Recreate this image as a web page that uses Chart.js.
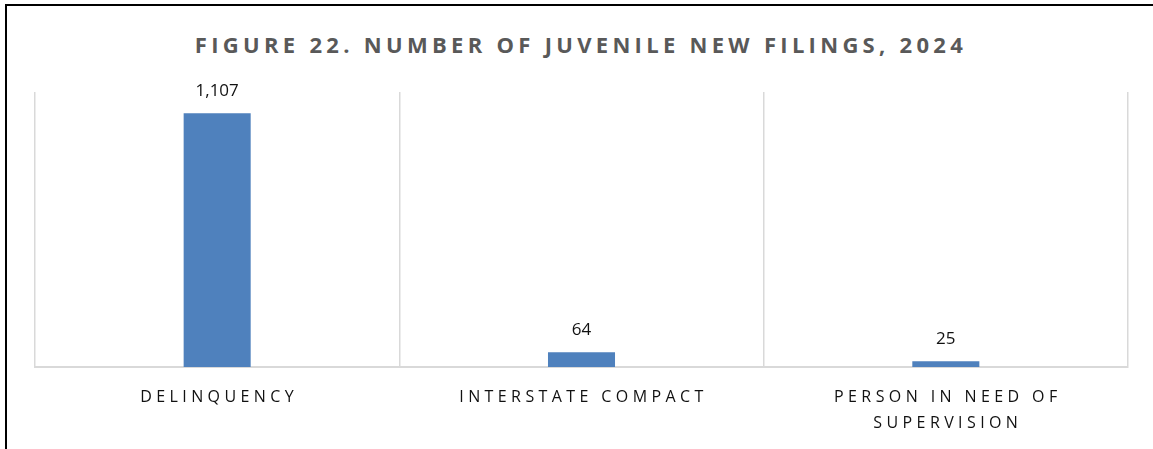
<!DOCTYPE html>
<html>
<head>
<meta charset="utf-8">
<script src="https://cdn.jsdelivr.net/npm/chart.js@4/dist/chart.umd.min.js"></script>
<style>
  html, body { margin: 0; padding: 0; background: #fff; }
  body { width: 1153px; height: 449px; position: relative; overflow: hidden; }
  .frame {
    position: absolute; left: 5px; top: 4px; right: -10px; bottom: -10px;
    border-left: 2px solid #000; border-top: 2px solid #000;
  }
  h1 {
    position: absolute; left: 0; top: 30px; width: 1162px; margin: 0;
    text-align: center; font-family: "Open Sans", sans-serif; font-weight: 700;
    font-size: 22px; letter-spacing: 4.3px; color: #595959; line-height: 28px;
  }
  #wrap { position: absolute; left: 0; top: 0; width: 1153px; height: 449px; }
</style>
</head>
<body>
<div class="frame"></div>
<h1>FIGURE 22. NUMBER OF JUVENILE NEW FILINGS, 2024</h1>
<div id="wrap"><canvas id="chart"></canvas></div>
<script>
const categories = [["DELINQUENCY"], ["INTERSTATE COMPACT"], ["PERSON IN NEED OF", "SUPERVISION"]];
const filings = [1107, 64, 25];

// value labels above bars + spaced category labels
const labelPlugin = {
  id: "labels",
  afterDatasetsDraw(chart) {
    const ctx = chart.ctx;
    const meta = chart.getDatasetMeta(0);
    ctx.save();
    ctx.fillStyle = "#111";
    ctx.font = "17px 'Open Sans', sans-serif";
    ctx.textAlign = "center";
    ctx.textBaseline = "bottom";
    meta.data.forEach((bar, i) => {
      ctx.fillText(filings[i].toLocaleString("en-US"), bar.x, bar.y - 14);
    });
    const x = chart.scales.x;
    ctx.font = "16px 'Open Sans', sans-serif";
    ctx.letterSpacing = "4.4px";
    ctx.fillStyle = "#111";
    ctx.textBaseline = "middle";
    categories.forEach((lines, i) => {
      const px = x.getPixelForValue(i);
      lines.forEach((t, j) => {
        ctx.fillText(t, px + 2, x.top + 30 + j * 26);
      });
    });
    ctx.restore();
  }
};

new Chart(document.getElementById("chart"), {
  type: "bar",
  data: {
    labels: categories.map(c => c.join(" ")),
    datasets: [{
      data: filings,
      backgroundColor: "#4f81bd",
      barPercentage: 0.184,
      categoryPercentage: 1
    }]
  },
  options: {
    responsive: true,
    maintainAspectRatio: false,
    animation: false,
    layout: { padding: { left: 35, right: 25, top: 92, bottom: 0 } },
    plugins: { legend: { display: false }, tooltip: { enabled: false } },
    scales: {
      x: {
        grid: { color: "#d9d9d9", lineWidth: 1.5, drawTicks: false },
        border: { color: "#d9d9d9", width: 2 },
        ticks: { display: false },
        afterFit(scale) { scale.height = 82; }
      },
      y: { display: false, min: 0, max: 1200 }
    }
  },
  plugins: [labelPlugin]
});
</script>
</body>
</html>
